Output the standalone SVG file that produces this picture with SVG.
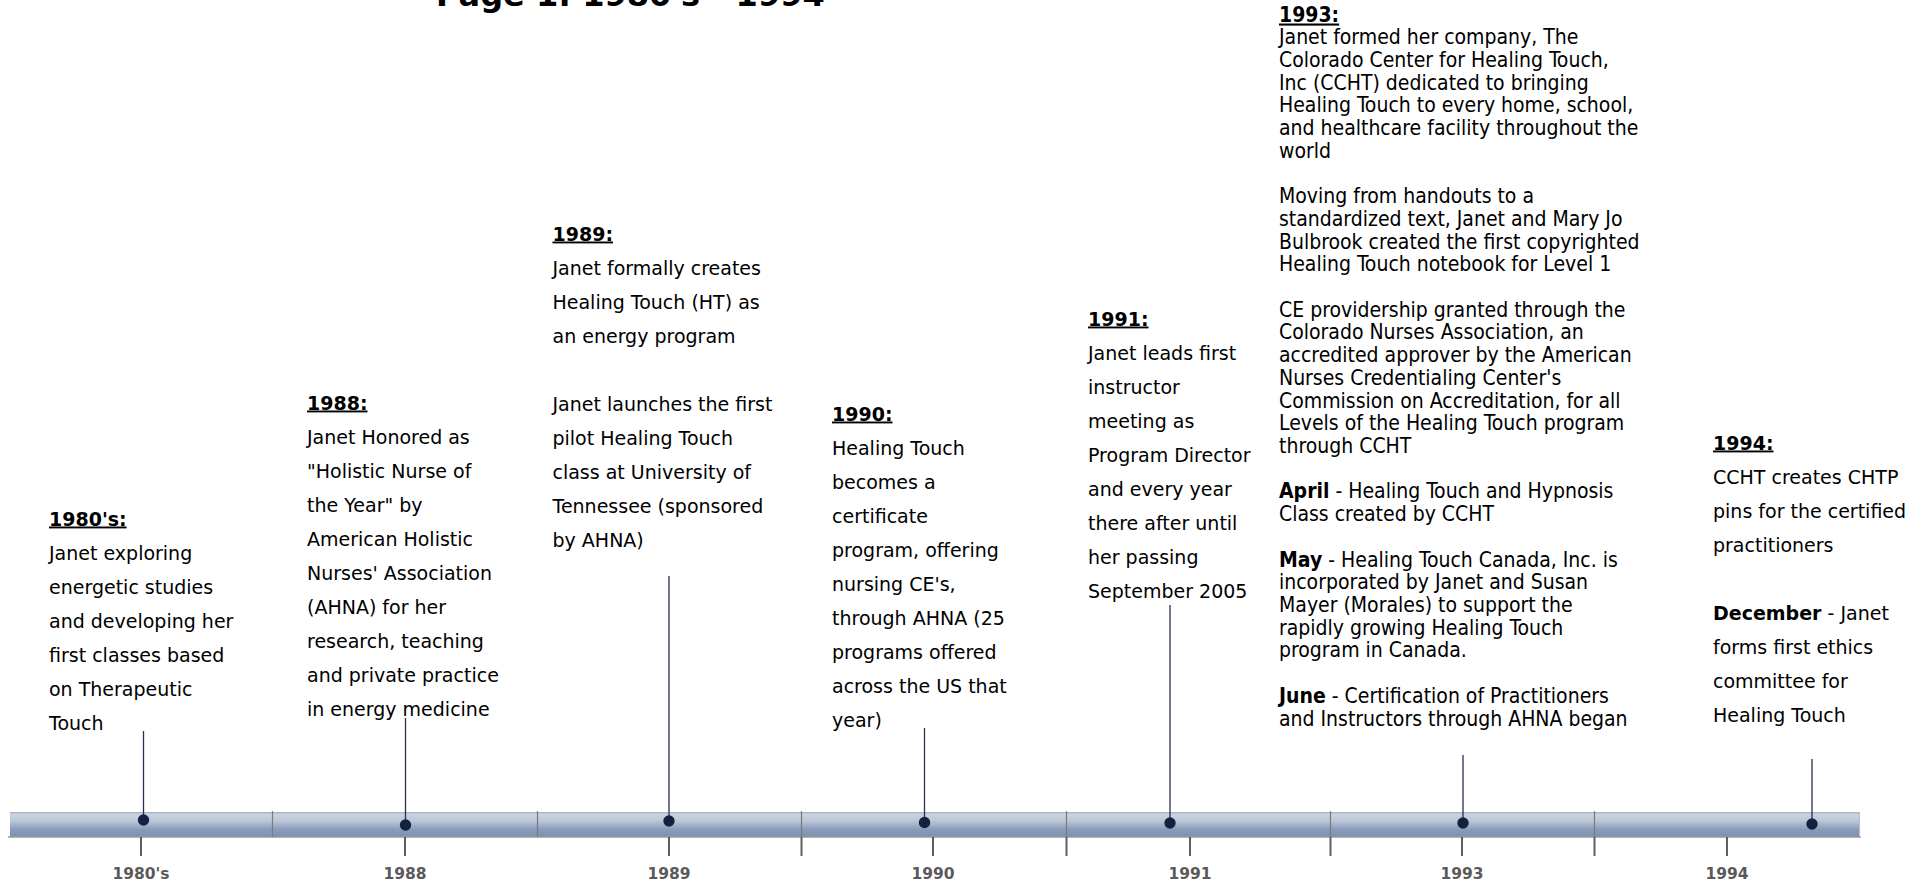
<svg xmlns="http://www.w3.org/2000/svg" width="1925" height="882" viewBox="0 0 1925 882">
<defs>
<linearGradient id="barGrad" x1="0" y1="0" x2="0" y2="1">
<stop offset="0" stop-color="#a3b1c6"/>
<stop offset="0.1" stop-color="#cbd3df"/>
<stop offset="0.35" stop-color="#bcc7d7"/>
<stop offset="0.7" stop-color="#899cba"/>
<stop offset="1" stop-color="#7b90b0"/>
</linearGradient>
<style>
.v{font-family:"DejaVu Sans",Verdana,sans-serif;font-size:19px;fill:#000}
.vh{font-family:"DejaVu Sans",Verdana,sans-serif;font-size:19px;font-weight:bold;fill:#000;text-decoration:underline}
.t{font-family:"DejaVu Sans Condensed","DejaVu Sans",sans-serif;font-stretch:condensed;font-size:21px;fill:#000}
.th{font-family:"DejaVu Sans Condensed","DejaVu Sans",sans-serif;font-stretch:condensed;font-size:21px;font-weight:bold;fill:#000;text-decoration:underline}
.b{font-weight:bold}
.yr{font-family:"DejaVu Sans",Verdana,sans-serif;font-size:15.5px;font-weight:bold;fill:#5a5a5a;text-anchor:middle}
.title{font-family:"DejaVu Sans",Verdana,sans-serif;font-size:32px;font-weight:bold;fill:#000}
.stem{stroke:#24324f;stroke-width:1.3;fill:none}
.dot{fill:#13233f}
.div{stroke:#7a7a7a;stroke-width:1.2}
.tick{stroke:#5e5e5e;stroke-width:2}
</style>
</defs>
<rect width="1925" height="882" fill="#fff"/>
<text class="title" x="436" y="6">Page 1: 1980's - 1994</text>

<g id="timeline">
<rect x="10" y="812" width="1850" height="25" fill="url(#barGrad)"/>
<line x1="1859.5" y1="812" x2="1859.5" y2="837" stroke="#b7c2d3" stroke-width="1"/>
<line x1="8" y1="837" x2="1861" y2="837" stroke="#9a9a9a" stroke-width="1.5"/>
<line class="div" x1="272.5" y1="811" x2="272.5" y2="837"/>
<line class="div" x1="537.5" y1="811" x2="537.5" y2="837"/>
<line class="div" x1="801.5" y1="811" x2="801.5" y2="837"/>
<line class="div" x1="1066.5" y1="811" x2="1066.5" y2="837"/>
<line class="div" x1="1330.5" y1="811" x2="1330.5" y2="837"/>
<line class="div" x1="1594.5" y1="811" x2="1594.5" y2="837"/>
<line class="tick" x1="801.5" y1="837" x2="801.5" y2="856"/>
<line class="tick" x1="1066.5" y1="837" x2="1066.5" y2="856"/>
<line class="tick" x1="1330.5" y1="837" x2="1330.5" y2="856"/>
<line class="tick" x1="1594.5" y1="837" x2="1594.5" y2="856"/>
<line class="tick" x1="141" y1="837" x2="141" y2="856"/>
<line class="tick" x1="405" y1="837" x2="405" y2="856"/>
<line class="tick" x1="669" y1="837" x2="669" y2="856"/>
<line class="tick" x1="933" y1="837" x2="933" y2="856"/>
<line class="tick" x1="1190" y1="837" x2="1190" y2="856"/>
<line class="tick" x1="1462" y1="837" x2="1462" y2="856"/>
<line class="tick" x1="1727" y1="837" x2="1727" y2="856"/>
<text class="yr" x="141" y="879">1980's</text>
<text class="yr" x="405" y="879">1988</text>
<text class="yr" x="669" y="879">1989</text>
<text class="yr" x="933" y="879">1990</text>
<text class="yr" x="1190" y="879">1991</text>
<text class="yr" x="1462" y="879">1993</text>
<text class="yr" x="1727" y="879">1994</text>
</g>

<g id="connectors">
<line class="stem" x1="143.5" y1="731" x2="143.5" y2="820"/>
<line class="stem" x1="405.5" y1="718" x2="405.5" y2="825"/>
<line class="stem" x1="669" y1="576" x2="669" y2="821"/>
<line class="stem" x1="924.5" y1="728" x2="924.5" y2="822"/>
<line class="stem" x1="1170" y1="605" x2="1170" y2="823"/>
<line class="stem" x1="1463" y1="755" x2="1463" y2="823"/>
<line class="stem" x1="1812" y1="759" x2="1812" y2="824"/>
</g>

<g id="ev-1980s">
<circle class="dot" cx="143.5" cy="820" r="5.7"/>
<text class="vh" x="49" y="525.5">1980's:</text>
<text class="v" x="49" y="559.5">Janet exploring</text>
<text class="v" x="49" y="593.5">energetic studies</text>
<text class="v" x="49" y="627.5">and developing her</text>
<text class="v" x="49" y="661.5">first classes based</text>
<text class="v" x="49" y="695.5">on Therapeutic</text>
<text class="v" x="49" y="729.5">Touch</text>
</g>

<g id="ev-1988">
<circle class="dot" cx="405.5" cy="825" r="5.7"/>
<text class="vh" x="307" y="409.5">1988:</text>
<text class="v" x="307" y="443.5">Janet Honored as</text>
<text class="v" x="307" y="477.5">"Holistic Nurse of</text>
<text class="v" x="307" y="511.5">the Year" by</text>
<text class="v" x="307" y="545.5">American Holistic</text>
<text class="v" x="307" y="579.5">Nurses' Association</text>
<text class="v" x="307" y="613.5">(AHNA) for her</text>
<text class="v" x="307" y="647.5">research, teaching</text>
<text class="v" x="307" y="681.5">and private practice</text>
<text class="v" x="307" y="715.5">in energy medicine</text>
</g>

<g id="ev-1989">
<circle class="dot" cx="669" cy="821" r="5.7"/>
<text class="vh" x="552.5" y="240.5">1989:</text>
<text class="v" x="552.5" y="274.5">Janet formally creates</text>
<text class="v" x="552.5" y="308.5">Healing Touch (HT) as</text>
<text class="v" x="552.5" y="342.5">an energy program</text>
<text class="v" x="552.5" y="410.5">Janet launches the first</text>
<text class="v" x="552.5" y="444.5">pilot Healing Touch</text>
<text class="v" x="552.5" y="478.5">class at University of</text>
<text class="v" x="552.5" y="512.5">Tennessee (sponsored</text>
<text class="v" x="552.5" y="546.5">by AHNA)</text>
</g>

<g id="ev-1990">
<circle class="dot" cx="924.5" cy="822.5" r="5.7"/>
<text class="vh" x="832" y="420.5">1990:</text>
<text class="v" x="832" y="454.5">Healing Touch</text>
<text class="v" x="832" y="488.5">becomes a</text>
<text class="v" x="832" y="522.5">certificate</text>
<text class="v" x="832" y="556.5">program, offering</text>
<text class="v" x="832" y="590.5">nursing CE's,</text>
<text class="v" x="832" y="624.5">through AHNA (25</text>
<text class="v" x="832" y="658.5">programs offered</text>
<text class="v" x="832" y="692.5">across the US that</text>
<text class="v" x="832" y="726.5">year)</text>
</g>

<g id="ev-1991">
<circle class="dot" cx="1170" cy="823" r="5.7"/>
<text class="vh" x="1088" y="325.5">1991:</text>
<text class="v" x="1088" y="359.5">Janet leads first</text>
<text class="v" x="1088" y="393.5">instructor</text>
<text class="v" x="1088" y="427.5">meeting as</text>
<text class="v" x="1088" y="461.5">Program Director</text>
<text class="v" x="1088" y="495.5">and every year</text>
<text class="v" x="1088" y="529.5">there after until</text>
<text class="v" x="1088" y="563.5">her passing</text>
<text class="v" x="1088" y="597.5">September 2005</text>
</g>

<g id="ev-1993">
<circle class="dot" cx="1463" cy="823" r="5.7"/>
<text class="th" x="1279" y="21.5">1993:</text>
<text class="t" x="1279" y="44.2">Janet formed her company, The</text>
<text class="t" x="1279" y="66.9">Colorado Center for Healing Touch,</text>
<text class="t" x="1279" y="89.6">Inc (CCHT) dedicated to bringing</text>
<text class="t" x="1279" y="112.3">Healing Touch to every home, school,</text>
<text class="t" x="1279" y="135">and healthcare facility throughout the</text>
<text class="t" x="1279" y="157.8">world</text>
<text class="t" x="1279" y="203.2">Moving from handouts to a</text>
<text class="t" x="1279" y="225.9">standardized text, Janet and Mary Jo</text>
<text class="t" x="1279" y="248.6">Bulbrook created the first copyrighted</text>
<text class="t" x="1279" y="271.3">Healing Touch notebook for Level 1</text>
<text class="t" x="1279" y="316.7">CE providership granted through the</text>
<text class="t" x="1279" y="339.4">Colorado Nurses Association, an</text>
<text class="t" x="1279" y="362.1">accredited approver by the American</text>
<text class="t" x="1279" y="384.8">Nurses Credentialing Center's</text>
<text class="t" x="1279" y="407.5">Commission on Accreditation, for all</text>
<text class="t" x="1279" y="430.2">Levels of the Healing Touch program</text>
<text class="t" x="1279" y="453">through CCHT</text>
<text class="t" x="1279" y="498.4"><tspan class="b">April</tspan> - Healing Touch and Hypnosis</text>
<text class="t" x="1279" y="521.1">Class created by CCHT</text>
<text class="t" x="1279" y="566.5"><tspan class="b">May</tspan> - Healing Touch Canada, Inc. is</text>
<text class="t" x="1279" y="589.2">incorporated by Janet and Susan</text>
<text class="t" x="1279" y="611.9">Mayer (Morales) to support the</text>
<text class="t" x="1279" y="634.6">rapidly growing Healing Touch</text>
<text class="t" x="1279" y="657.3">program in Canada.</text>
<text class="t" x="1279" y="702.8"><tspan class="b">June</tspan> - Certification of Practitioners</text>
<text class="t" x="1279" y="725.5">and Instructors through AHNA began</text>
</g>

<g id="ev-1994">
<circle class="dot" cx="1812" cy="824" r="5.7"/>
<text class="vh" x="1713" y="449.5">1994:</text>
<text class="v" x="1713" y="483.5">CCHT creates CHTP</text>
<text class="v" x="1713" y="517.5">pins for the certified</text>
<text class="v" x="1713" y="551.5">practitioners</text>
<text class="v" x="1713" y="619.5"><tspan class="b">December</tspan> - Janet</text>
<text class="v" x="1713" y="653.5">forms first ethics</text>
<text class="v" x="1713" y="687.5">committee for</text>
<text class="v" x="1713" y="721.5">Healing Touch</text>
</g>
</svg>
